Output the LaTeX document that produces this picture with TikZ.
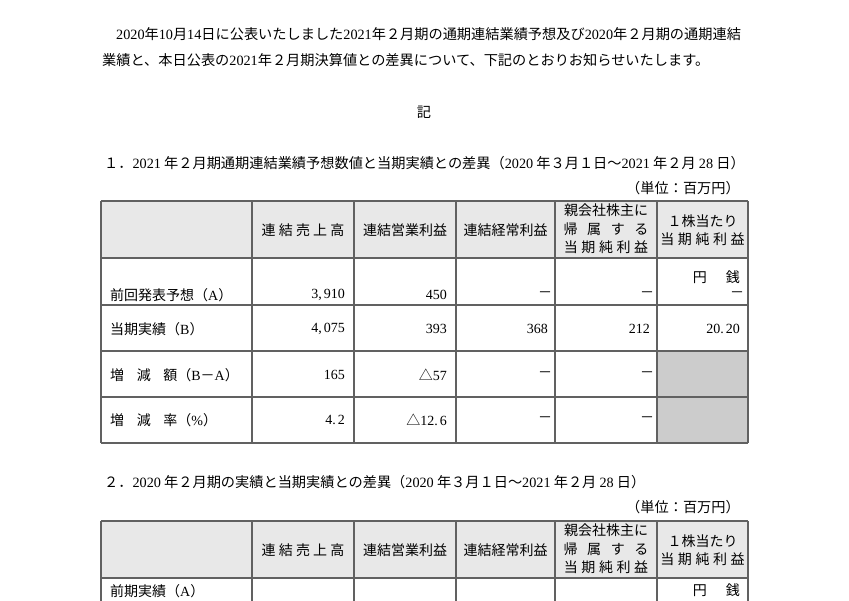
\documentclass[tikz,border=0pt]{standalone}
\usepackage{fontspec}
\setmainfont{Noto Sans CJK JP}
\newfontfamily\lat{Liberation Serif}
\newcommand\N[1]{{\lat #1}}
\newcommand\gp{\hspace{3.2pt}}
\newcommand\gw{\hspace{0.9em}}
\tikzset{
  body/.style={inner sep=0pt, font=\fontsize{14.2}{16}\selectfont},
  cell/.style={inner sep=0pt, font=\fontsize{14}{16}\selectfont},
  hcell/.style={inner sep=0pt, align=center, font=\fontsize{14}{18.5}\selectfont},
  rule/.style={draw=black!62, line width=1.1pt},
  headfill/.style={fill=black!9},
  shade/.style={fill=black!20},
}
\begin{document}
\begin{tikzpicture}[x=1pt,y=-1pt]
\useasboundingbox (0,0) rectangle (849,600);
\clip (0,0) rectangle (849,600);
\fill[white] (0,0) rectangle (849,600);

% ---- introductory text ----
\node[body, anchor=west] (l1) at (116,34) {\N{2020}年\N{10}月\N{14}日に公表いたしました\N{2021}年２月期の通期連結業績予想及び\N{2020}年２月期の通期連結};
\node[body, anchor=west] (l2) at (102,60) {業績と、本日公表の\N{2021}年２月期決算値との差異について、下記のとおりお知らせいたします。};
\node[body] (ki) at (424,112) {記};

% ---- section 1 ----
\node[body, anchor=west] (h1) at (104,163) {１．\N{2021} 年２月期通期連結業績予想数値と当期実績との差異（\N{2020} 年３月１日～\N{2021} 年２月 \N{28} 日）};
\node[body, anchor=east] (u1) at (740,188) {（単位：百万円）};

% table 1 fills
\fill[headfill] (101,201) rectangle (748,258);
\fill[shade] (657,351) rectangle (748,443);
% table 1 rules
\foreach \yy in {201,258,305,351,397,443} \draw[rule] (101,\yy) -- (748,\yy);
\foreach \xx in {101,252,354,456,555,657,748} \draw[rule] (\xx,201) -- (\xx,443);

% header
\node[cell] (a1) at (303,230) {連\gp 結\gp 売\gp 上\gp 高};
\node[cell] (a2) at (405,230) {連結営業利益};
\node[cell] (a3) at (505.5,230) {連結経常利益};
\node[hcell] (a4) at (606,229) {親会社株主に\\帰\hspace{9.6pt}属\hspace{9.6pt}す\hspace{9.6pt}る\\当\hspace{3.6pt}期\hspace{3.6pt}純\hspace{3.6pt}利\hspace{3.6pt}益};
\node[hcell] (a5) at (702.5,230) {１株当たり\\当\hspace{3.6pt}期\hspace{3.6pt}純\hspace{3.6pt}利\hspace{3.6pt}益};

% row 1
\node[cell, anchor=west] (r1) at (110,295) {前回発表予想（\N{A}）};
\node[cell, anchor=east] (r1c1) at (345,295) {\N{3,\kern2pt 910}};
\node[cell, anchor=east] (r1c2) at (447,295) {\N{450}};
\node[cell] (r1c3) at (545,295) {－};
\node[cell] (r1c4) at (647,295) {－};
\node[cell, anchor=east] (yen1) at (740,277) {円\hspace{19pt}銭};
\node[cell] (r1c5) at (737,295) {－};

% row 2
\node[cell, anchor=west] (r2) at (110,329) {当期実績（\N{B}）};
\node[cell, anchor=east] (r2c1) at (345,329) {\N{4,\kern2pt 075}};
\node[cell, anchor=east] (r2c2) at (447,329) {\N{393}};
\node[cell, anchor=east] (r2c3) at (548,329) {\N{368}};
\node[cell, anchor=east] (r2c4) at (650,329) {\N{212}};
\node[cell, anchor=east] (r2c5) at (740,329) {\N{20.\kern2pt 20}};

% row 3
\node[cell, anchor=west] (r3) at (110,375) {増\gw 減\gw 額（\N{B}－\N{A}）};
\node[cell, anchor=east] (r3c1) at (345,375) {\N{165}};
\node[cell, anchor=east] (r3c2) at (447,375) {△\N{57}};
\node[cell] (r3c3) at (545,375) {－};
\node[cell] (r3c4) at (647,375) {－};

% row 4
\node[cell, anchor=west] (r4) at (110,420) {増\gw 減\gw 率（\N{\%}）};
\node[cell, anchor=east] (r4c1) at (345,420) {\N{4.\kern2pt 2}};
\node[cell, anchor=east] (r4c2) at (447,420) {△\N{12.\kern2pt 6}};
\node[cell] (r4c3) at (545,420) {－};
\node[cell] (r4c4) at (647,420) {－};

% ---- section 2 ----
\node[body, anchor=west] (h2) at (104,482) {２．\N{2020} 年２月期の実績と当期実績との差異（\N{2020} 年３月１日～\N{2021} 年２月 \N{28} 日）};
\node[body, anchor=east] (u2) at (740,507) {（単位：百万円）};

\fill[headfill] (101,521) rectangle (748,578);
\foreach \yy in {521,578,625} \draw[rule] (101,\yy) -- (748,\yy);
\foreach \xx in {101,252,354,456,555,657,748} \draw[rule] (\xx,521) -- (\xx,640);

\node[cell] (b1) at (303,550) {連\gp 結\gp 売\gp 上\gp 高};
\node[cell] (b2) at (405,550) {連結営業利益};
\node[cell] (b3) at (505.5,550) {連結経常利益};
\node[hcell] (b4) at (606,549) {親会社株主に\\帰\hspace{9.6pt}属\hspace{9.6pt}す\hspace{9.6pt}る\\当\hspace{3.6pt}期\hspace{3.6pt}純\hspace{3.6pt}利\hspace{3.6pt}益};
\node[hcell] (b5) at (702.5,550) {１株当たり\\当\hspace{3.6pt}期\hspace{3.6pt}純\hspace{3.6pt}利\hspace{3.6pt}益};

\node[cell, anchor=west] (s1) at (110,591) {前期実績（\N{A}）};
\node[cell, anchor=east] (yen2) at (740,590) {円\hspace{19pt}銭};
\end{tikzpicture}
\end{document}
